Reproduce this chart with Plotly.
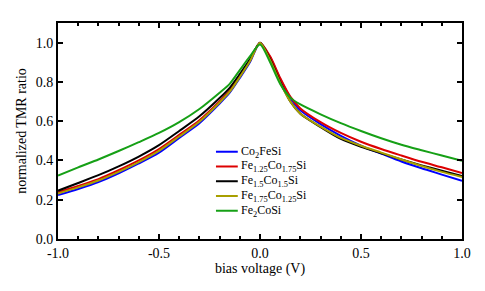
import plotly.graph_objects as go

voltage = [-1.0, -0.9, -0.8, -0.7, -0.6, -0.5, -0.4, -0.3, -0.2, -0.15, -0.1, -0.05, 0.0,
           0.05, 0.1, 0.15, 0.2, 0.3, 0.4, 0.5, 0.6, 0.7, 0.8, 0.9, 1.0]

co2fesi = [0.224, 0.255, 0.29, 0.335, 0.385, 0.44, 0.515, 0.59, 0.69, 0.745, 0.82, 0.90, 1.0,
           0.925, 0.815, 0.72, 0.655, 0.585, 0.525, 0.475, 0.435, 0.395, 0.36, 0.328, 0.296]
fe125 = [0.238, 0.27, 0.305, 0.35, 0.40, 0.458, 0.53, 0.605, 0.702, 0.757, 0.83, 0.908, 1.0,
         0.93, 0.82, 0.725, 0.665, 0.595, 0.54, 0.495, 0.458, 0.425, 0.393, 0.365, 0.336]
fe15 = [0.246, 0.285, 0.325, 0.37, 0.42, 0.478, 0.55, 0.625, 0.718, 0.77, 0.84, 0.915, 1.0,
        0.915, 0.80, 0.70, 0.638, 0.57, 0.51, 0.47, 0.437, 0.405, 0.375, 0.348, 0.32]
fe175 = [0.232, 0.263, 0.298, 0.342, 0.392, 0.449, 0.522, 0.597, 0.695, 0.75, 0.825, 0.905, 1.0,
         0.91, 0.795, 0.70, 0.638, 0.572, 0.515, 0.475, 0.44, 0.405, 0.372, 0.342, 0.316]
fe2cosi = [0.323, 0.365, 0.405, 0.448, 0.493, 0.54, 0.595, 0.662, 0.745, 0.79, 0.86, 0.93, 0.99,
           0.90, 0.79, 0.72, 0.685, 0.635, 0.59, 0.55, 0.513, 0.48, 0.452, 0.425, 0.398]

names = ["Co<sub>2</sub>FeSi", "Fe<sub>1.25</sub>Co<sub>1.75</sub>Si", "Fe<sub>1.5</sub>Co<sub>1.5</sub>Si",
         "Fe<sub>1.75</sub>Co<sub>1.25</sub>Si", "Fe<sub>2</sub>CoSi"]
series = [co2fesi, fe125, fe15, fe175, fe2cosi]
colors = ["#0000ff", "#dd0000", "#000000", "#a89f00", "#16a016"]

x_ticks = [-1.0, -0.5, 0.0, 0.5, 1.0]
x_ticktext = ["-1.0", "-0.5", "0.0", "0.5", "1.0"]
y_ticks = [0.0, 0.2, 0.4, 0.6, 0.8, 1.0]
y_ticktext = ["0.0", "0.2", "0.4", "0.6", "0.8", "1.0"]

fig = go.Figure()
for name, ys, c in zip(names, series, colors):
    fig.add_trace(go.Scatter(x=voltage, y=ys, mode="lines", name=name, showlegend=False,
                             line=dict(color=c, width=2, shape="spline", smoothing=0.7)))

font = "Liberation Serif"

# compact legend (line sample + label), laid out in paper coordinates
leg_x0, leg_x1, leg_tx = 0.391, 0.445, 0.447
leg_y0, leg_dy = 0.404, 0.0683
for i, (name, c) in enumerate(zip(names, colors)):
    yy = leg_y0 - i * leg_dy
    fig.add_shape(type="line", xref="paper", yref="paper", x0=leg_x0, x1=leg_x1, y0=yy, y1=yy,
                  line=dict(color=c, width=2))
    fig.add_annotation(xref="paper", yref="paper", x=leg_tx, y=yy, text=name, showarrow=False,
                       xanchor="left", yanchor="middle",
                       font=dict(family=font, size=12, color="black"))

axis_common = dict(showline=True, linecolor="black", linewidth=2, mirror="ticks",
                   ticks="inside", tickcolor="black", tickwidth=1.5, ticklen=5,
                   showgrid=False, zeroline=False,
                   tickfont=dict(family=font, size=14, color="black"))

fig.update_xaxes(range=[-1, 1], tickvals=x_ticks, ticktext=x_ticktext,
                 minor=dict(dtick=0.1, tick0=0, ticks="inside", ticklen=3, tickcolor="black", tickwidth=1.5),
                 title=dict(text="bias voltage (V)", font=dict(family=font, size=14, color="black"), standoff=0),
                 **axis_common)
fig.update_yaxes(range=[0, 1.1], tickvals=y_ticks, ticktext=y_ticktext,
                 title=dict(text="normalized TMR ratio", font=dict(family=font, size=14, color="black"), standoff=6),
                 **axis_common)

fig.update_layout(
    width=477, height=283,
    margin=dict(l=45, r=23, t=15, b=52),
    paper_bgcolor="white", plot_bgcolor="white",
    font=dict(family=font, color="black"),
    showlegend=False,
)

fig.write_html("out.html")
